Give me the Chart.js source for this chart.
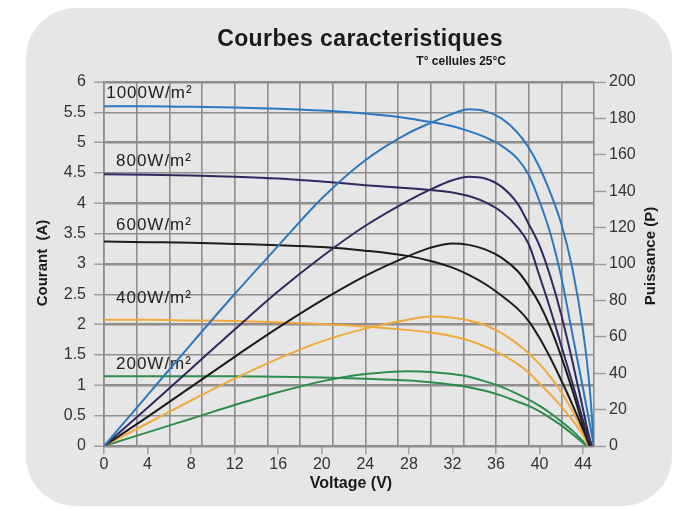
<!DOCTYPE html>
<html>
<head>
<meta charset="utf-8">
<script src="https://cdn.jsdelivr.net/npm/chart.js@4"></script>
<style>
  html, body { margin: 0; background: #fff; }
  canvas { display: block; }
</style>
</head>
<body>
<canvas id="chart" width="678" height="511"></canvas>
<script>
// ===== DATA =====

// x axis: labelled ticks every 4 V, grid every 3 V
const voltTicks = [0, 4, 8, 12, 16, 20, 24, 28, 32, 36, 40, 44];
const voltGrid  = [0, 3, 6, 9, 12, 15, 18, 21, 24, 27, 30, 33, 36, 39, 42, 45];

// 1000 W/m²
const volts1000 = [0, 4, 8, 12, 16, 20, 24, 28, 30, 32, 33.5, 35, 36.5, 38, 39, 40, 41, 42, 43, 44, 44.6, 45];
const amps1000  = [5.60, 5.60, 5.59, 5.58, 5.56, 5.53, 5.48, 5.40, 5.34, 5.27, 5.19, 5.09, 4.95, 4.73, 4.47, 4.03, 3.50, 2.78, 1.86, 0.94, 0.38, 0];
const watts1000 = [0, 28, 56, 83.5, 110, 136, 157, 172, 177.5, 182.5, 185, 184, 180, 172, 164, 153, 139, 122, 98, 63, 32, 0];

// 800 W/m²
const volts800 = [0, 4, 8, 12, 16, 20, 24, 28, 30, 32, 33.5, 35, 36.5, 38, 39, 40, 41, 42, 43, 44, 44.4, 44.8];
const amps800  = [4.48, 4.47, 4.46, 4.44, 4.41, 4.36, 4.30, 4.25, 4.22, 4.18, 4.12, 4.02, 3.86, 3.60, 3.33, 2.80, 2.25, 1.65, 1.05, 0.42, 0.20, 0];
const watts800 = [0, 21, 42.5, 64, 85, 104, 121, 135, 141, 146, 148, 147, 142.5, 133, 122, 110, 93, 72, 47, 20, 9, 0];

// 600 W/m²
const volts600 = [0, 4, 8, 12, 16, 20, 24, 28, 30, 32, 33.5, 35, 36.5, 38, 39, 40, 41, 42, 43, 44, 44.6];
const amps600  = [3.37, 3.36, 3.35, 3.33, 3.31, 3.28, 3.22, 3.13, 3.05, 2.94, 2.82, 2.67, 2.48, 2.26, 2.06, 1.78, 1.45, 1.08, 0.69, 0.27, 0];
const watts600 = [0, 16, 32.5, 49, 65, 80, 93.5, 104.5, 109, 111.3, 110.5, 108, 103.5, 96, 88, 78, 65, 49, 31, 11, 0];

// 400 W/m²
const volts400 = [0, 4, 8, 12, 16, 20, 24, 28, 30, 32, 33.5, 35, 36.5, 38, 39, 40, 41, 42, 43, 44, 44.5];
const amps400  = [2.08, 2.08, 2.07, 2.06, 2.04, 2.01, 1.97, 1.91, 1.87, 1.81, 1.74, 1.64, 1.51, 1.35, 1.21, 1.03, 0.85, 0.65, 0.43, 0.18, 0];
const watts400 = [0, 12.5, 25, 37, 48, 57.5, 64.5, 69.5, 71.1, 70.5, 69, 66.5, 62, 56, 51, 45, 38, 29.5, 19.5, 7.5, 0];

// 200 W/m²
const volts200 = [0, 4, 8, 12, 16, 20, 24, 28, 30, 32, 33.5, 35, 36.5, 38, 39, 40, 41, 42, 43, 44, 44.3];
const amps200  = [1.15, 1.15, 1.15, 1.15, 1.14, 1.13, 1.11, 1.08, 1.05, 1.01, 0.97, 0.91, 0.83, 0.73, 0.66, 0.57, 0.46, 0.34, 0.20, 0.05, 0];
const watts200 = [0, 7.5, 15, 22.5, 29.5, 35.5, 39.5, 41.1, 40.7, 39.5, 38, 35.5, 32.5, 28.5, 25.5, 22, 18, 13.5, 8.5, 2.5, 0];

const irrLabels = ['1000W/m²', '800W/m²', '600W/m²', '400W/m²', '200W/m²'];

// ===== STYLE =====
const FONT  = '"Liberation Sans", Arial, sans-serif';
const GRID  = '#8e8e8e';
const TICK  = '#9a9a9a';
const TEXT  = '#333333';
const PANEL = '#e6e6e6';

const curves = [
  { name: irrLabels[0], color: '#2b78be', v: volts1000, i: amps1000, p: watts1000, at: [0.2, 5.82] },
  { name: irrLabels[1], color: '#2e2a60', v: volts800,  i: amps800,  p: watts800,  at: [1.1, 4.70] },
  { name: irrLabels[2], color: '#1c1c1c', v: volts600,  i: amps600,  p: watts600,  at: [1.1, 3.63] },
  { name: irrLabels[3], color: '#f0aa3c', v: volts400,  i: amps400,  p: watts400,  at: [1.1, 2.44] },
  { name: irrLabels[4], color: '#2e8c4c', v: volts200,  i: amps200,  p: watts200,  at: [1.1, 1.34] },
];

const datasets = [];
curves.forEach(c => {
  const line = {
    borderColor: c.color,
    borderWidth: 2,
    pointRadius: 0,
    fill: false,
    cubicInterpolationMode: 'monotone',
  };
  datasets.push({ ...line, label: c.name + ' I', yAxisID: 'y',
    data: c.v.map((x, k) => ({ x, y: c.i[k] })) });
  datasets.push({ ...line, label: c.name + ' P', yAxisID: 'y2',
    data: c.v.map((x, k) => ({ x, y: c.p[k] })) });
});

const xMarks = [...new Set([...voltTicks, ...voltGrid])].sort((a, b) => a - b);

// rounded grey panel behind everything
const panelPlugin = {
  id: 'panel',
  beforeDraw(chart) {
    const ctx = chart.ctx;
    ctx.save();
    ctx.fillStyle = '#fff';
    ctx.fillRect(0, 0, chart.width, chart.height);
    ctx.fillStyle = PANEL;
    ctx.beginPath();
    ctx.roundRect(26, 8, 646, 498, 50);
    ctx.fill();
    ctx.restore();
  },
};

// irradiance labels above each current curve
const labelPlugin = {
  id: 'irrLabels',
  beforeDatasetsDraw(chart) {
    const { ctx, scales } = chart;
    ctx.save();
    ctx.font = '17px ' + FONT;
    ctx.letterSpacing = '1px';
    ctx.fillStyle = '#222';
    ctx.textBaseline = 'middle';
    ctx.textAlign = 'left';
    curves.forEach(c => {
      ctx.fillText(c.name, scales.x.getPixelForValue(c.at[0]), scales.y.getPixelForValue(c.at[1]));
    });
    ctx.restore();
  },
};

// title, subtitle and axis titles
const textPlugin = {
  id: 'texts',
  afterDraw(chart) {
    const ctx = chart.ctx;
    ctx.save();
    ctx.fillStyle = '#1a1a1a';
    ctx.textBaseline = 'middle';

    ctx.font = 'bold 23px ' + FONT;
    ctx.letterSpacing = '0.4px';
    ctx.textAlign = 'center';
    ctx.fillText('Courbes caracteristiques', 360, 40);

    ctx.font = 'bold 12px ' + FONT;
    ctx.letterSpacing = '0px';
    ctx.textAlign = 'right';
    ctx.fillText('T° cellules 25°C', 506, 62);

    ctx.font = 'bold 16px ' + FONT;
    ctx.textAlign = 'center';
    ctx.fillText('Voltage (V)', 351, 484);

    ctx.font = 'bold 15px ' + FONT;
    ctx.save();
    ctx.translate(43, 263);
    ctx.rotate(-Math.PI / 2);
    ctx.fillText('Courant  (A)', 0, 0);
    ctx.restore();

    ctx.save();
    ctx.translate(651, 256);
    ctx.rotate(-Math.PI / 2);
    ctx.fillText('Puissance (P)', 0, 0);
    ctx.restore();

    ctx.restore();
  },
};

new Chart(document.getElementById('chart'), {
  type: 'line',
  data: { datasets },
  plugins: [panelPlugin, labelPlugin, textPlugin],
  options: {
    responsive: false,
    animation: false,
    layout: { padding: { top: 82, left: 0, right: 0, bottom: 0 } },
    plugins: { legend: { display: false }, tooltip: { enabled: false }, title: { display: false } },
    scales: {
      x: {
        type: 'linear',
        min: 0,
        max: 45,
        afterBuildTicks: s => { s.ticks = xMarks.map(v => ({ value: v })); },
        afterFit: s => { s.height = 65; },
        ticks: {
          autoSkip: false,
          maxRotation: 0,
          minRotation: 0,
          padding: 1,
          color: TEXT,
          font: { family: FONT, size: 16 },
          callback: v => voltTicks.includes(v) ? String(v) : '',
        },
        grid: {
          color: c => (c.tick && voltGrid.includes(c.tick.value)) ? GRID : 'rgba(0,0,0,0)',
          tickColor: c => (c.tick && voltTicks.includes(c.tick.value)) ? TICK : 'rgba(0,0,0,0)',
          lineWidth: 1.6,
          tickWidth: 1.4,
          tickLength: 8,
        },
        border: { display: true, color: GRID, width: 1.6 },
      },
      y: {
        type: 'linear',
        position: 'left',
        min: 0,
        max: 6,
        afterFit: s => { s.width = 104; },
        ticks: {
          stepSize: 0.5,
          padding: 8,
          color: TEXT,
          font: { family: FONT, size: 16 },
          callback: v => String(v),
        },
        grid: {
          color: GRID,
          lineWidth: c => (c.tick && Number.isInteger(c.tick.value)) ? 2.4 : 1.4,
          tickColor: TICK,
          tickWidth: 1.4,
          tickLength: 10,
        },
        border: { display: true, color: GRID, width: 1.6 },
      },
      y2: {
        type: 'linear',
        position: 'right',
        min: 0,
        max: 200,
        afterFit: s => { s.width = 84; },
        ticks: {
          stepSize: 20,
          padding: 3,
          color: TEXT,
          font: { family: FONT, size: 16 },
        },
        grid: {
          drawOnChartArea: false,
          tickColor: TICK,
          tickWidth: 1.4,
          tickLength: 12,
        },
        border: { display: false },
      },
    },
  },
});
</script>
</body>
</html>
